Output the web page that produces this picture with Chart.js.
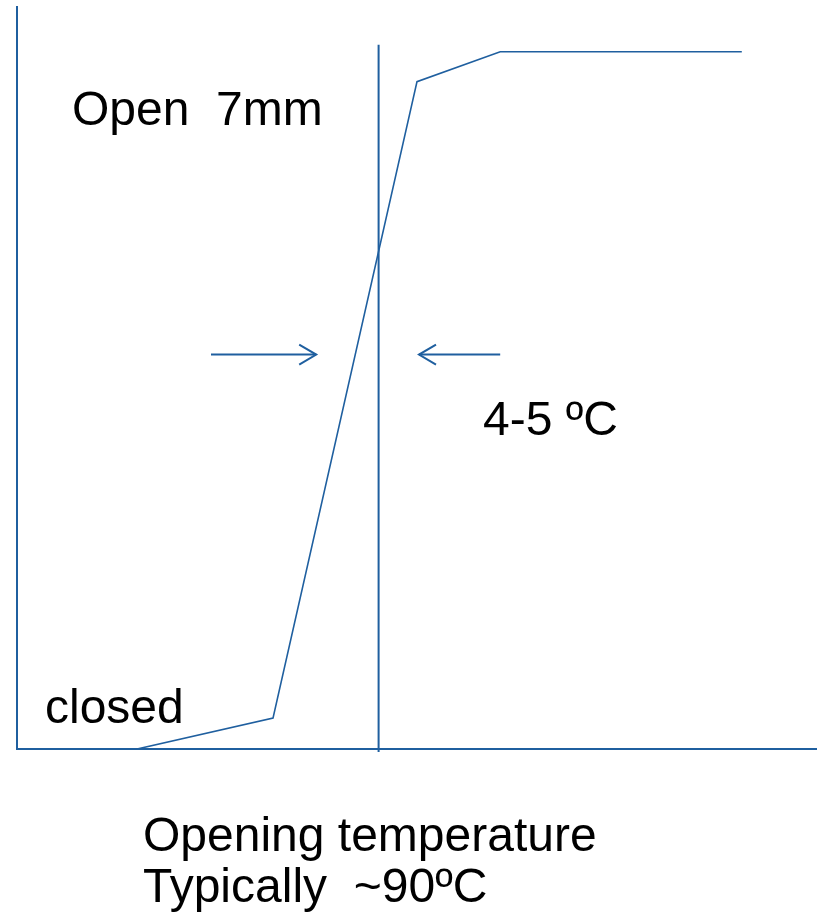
<!DOCTYPE html>
<html>
<head>
<meta charset="utf-8">
<script src="https://cdn.jsdelivr.net/npm/chart.js@4/dist/chart.umd.min.js"></script>
<style>
  html, body { margin: 0; padding: 0; background: #ffffff; }
  #wrap { position: relative; width: 817px; height: 916px; }
</style>
</head>
<body>
<div id="wrap"><canvas id="c" width="817" height="916"></canvas></div>
<script>
// Schematic: thermostat valve lift (mm) versus temperature (arbitrary units)
const curveX = [15, 32, 50, 60.4, 90.6];
const curveY = [0, 0.31, 6.7, 7.0, 7.0];

// Vertical marker at the opening temperature
const markerX = [45.2, 45.2];
const markerY = [-0.03, 7.07];

// Arrows indicating the 4-5 ºC band (from -> to, arrowhead at "to")
const arrowLeftX = [24.25, 37.4];
const arrowRightX = [60.4, 50.25];
const arrowY = [3.96, 3.96];

// Text labels
const labelOpen = 'Open  7mm';
const labelClosed = 'closed';
const labelBand = '4-5 ºC';
const captionLines = ['Opening temperature', 'Typically  ~90ºC'];

const blue = '#1f5f9f';

function pts(xs, ys) { return xs.map((x, i) => ({ x: x, y: ys[i] })); }

const arrowHeads = {
  id: 'arrowHeads',
  afterDatasetsDraw(chart) {
    const ctx = chart.ctx;
    const xs = chart.scales.x, ys = chart.scales.y;
    [arrowLeftX, arrowRightX].forEach(ax => {
      const tipX = xs.getPixelForValue(ax[1]);
      const tipY = ys.getPixelForValue(arrowY[1]);
      const dir = ax[1] > ax[0] ? 1 : -1;
      ctx.save();
      ctx.strokeStyle = blue;
      ctx.lineWidth = 2;
      ctx.beginPath();
      ctx.moveTo(tipX - dir * 17, tipY - 10);
      ctx.lineTo(tipX, tipY);
      ctx.lineTo(tipX - dir * 17, tipY + 10);
      ctx.stroke();
      ctx.restore();
    });
  }
};

const texts = {
  id: 'texts',
  afterDraw(chart) {
    const ctx = chart.ctx;
    ctx.save();
    ctx.fillStyle = '#000000';
    ctx.font = '48px "Liberation Sans", Arial, sans-serif';
    ctx.textBaseline = 'alphabetic';
    ctx.textAlign = 'left';
    ctx.fillText(labelOpen, 72, 125);
    ctx.fillText(labelClosed, 45, 723);
    ctx.fillText(labelBand, 483, 435);
    ctx.fillText(captionLines[0], 143, 851);
    ctx.fillText(captionLines[1], 143, 902);
    ctx.restore();
  }
};

new Chart(document.getElementById('c'), {
  type: 'scatter',
  data: {
    datasets: [
      { data: pts(curveX, curveY), showLine: true, borderColor: blue, borderWidth: 1.6, pointRadius: 0, fill: false, tension: 0 },
      { data: pts(markerX, markerY), showLine: true, borderColor: blue, borderWidth: 2, pointRadius: 0, clip: false },
      { data: pts(arrowLeftX, arrowY), showLine: true, borderColor: blue, borderWidth: 2, pointRadius: 0 },
      { data: pts(arrowRightX, arrowY), showLine: true, borderColor: blue, borderWidth: 2, pointRadius: 0 }
    ]
  },
  options: {
    responsive: false,
    animation: false,
    events: [],
    layout: { padding: { left: 17, right: 0, top: 7, bottom: 167 } },
    plugins: { legend: { display: false }, tooltip: { enabled: false }, title: { display: false } },
    scales: {
      x: {
        type: 'linear', min: 0, max: 100,
        grid: { display: false },
        border: { display: true, color: blue, width: 2 },
        ticks: { display: false },
        afterFit: s => { s.height = 0; }
      },
      y: {
        type: 'linear', min: 0, max: 7.45,
        grid: { display: false },
        border: { display: true, color: blue, width: 2 },
        ticks: { display: false },
        afterFit: s => { s.width = 0; }
      }
    }
  },
  plugins: [arrowHeads, texts]
});
</script>
</body>
</html>
